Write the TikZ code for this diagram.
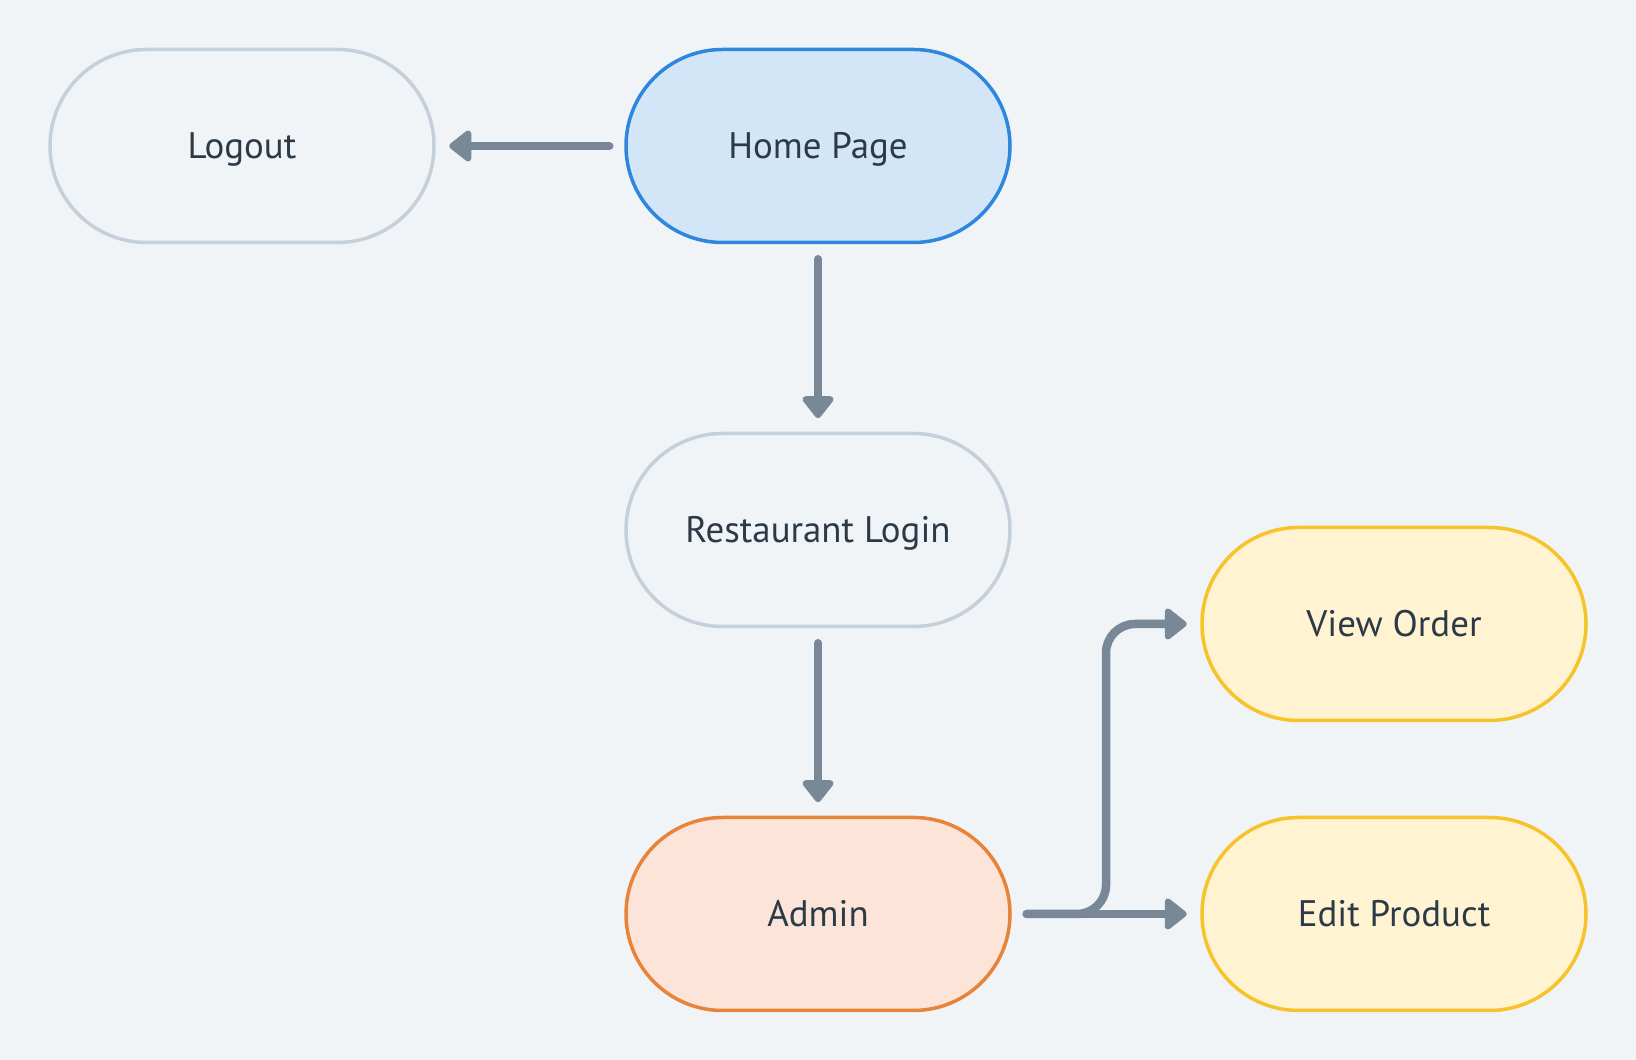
\documentclass[tikz,border=0pt]{standalone}
\usepackage{fontspec}
\setmainfont{PT Sans}
\usetikzlibrary{arrows.meta}

\definecolor{bgcol}{HTML}{F0F4F7}
\definecolor{txtcol}{HTML}{2C3A47}
\definecolor{flowcol}{HTML}{788896}
\definecolor{homefill}{HTML}{D3E6F7}
\definecolor{homedraw}{HTML}{2E86DE}
\definecolor{plaindraw}{HTML}{C5D0DA}
\definecolor{adminfill}{HTML}{FCE5D8}
\definecolor{admindraw}{HTML}{E8843A}
\definecolor{subfill}{HTML}{FFF3D2}
\definecolor{subdraw}{HTML}{F6C32A}

\tikzset{
  pill/.style={rectangle, rounded corners=1.93cm, minimum width=7.68cm,
    minimum height=3.86cm, line width=0.07cm, text=txtcol,
    text height=14.7pt, text depth=0pt,
    font=\fontsize{21}{25}\selectfont},
  plainpill/.style={pill, draw=plaindraw, fill=bgcol},
  homepill/.style={pill, draw=homedraw, fill=homefill},
  adminpill/.style={pill, draw=admindraw, fill=adminfill},
  subpill/.style={pill, draw=subdraw, fill=subfill},
  flow/.style={draw=flowcol, line width=0.17cm, line cap=round,
    -{Triangle[width=0.72cm, length=0.48cm, round]},
    shorten <=0.3cm, shorten >=0.27cm}
}

\begin{document}
\begin{tikzpicture}

  % ====== background / bounding box ======
  \fill[bgcol] (0,0) rectangle (32.72,21.2);
  \useasboundingbox (0,0) rectangle (32.72,21.2);

  % ====== nodes ======
  \node[homepill]  (home)   at (16.36,18.28) {Home Page};
  \node[plainpill] (logout) at (4.84,18.28)  {Logout};
  \node[plainpill] (login)  at (16.36,10.6)  {Restaurant Login};
  \node[adminpill] (admin)  at (16.36,2.92)  {Admin};
  \node[subpill]   (view)   at (27.88,8.72)  {View Order};
  \node[subpill]   (edit)   at (27.88,2.92)  {Edit Product};

  % ====== connectors ======
  \draw[flow] (home) -- (logout);
  \draw[flow] (home) -- (login);
  \draw[flow] (login) -- (admin);

  \coordinate (split) at (22.12,2.92);
  \draw[flow, rounded corners=0.58cm] (admin.east) -- (split) |- (view.west);
  \draw[flow] (admin) -- (edit);

\end{tikzpicture}
\end{document}
